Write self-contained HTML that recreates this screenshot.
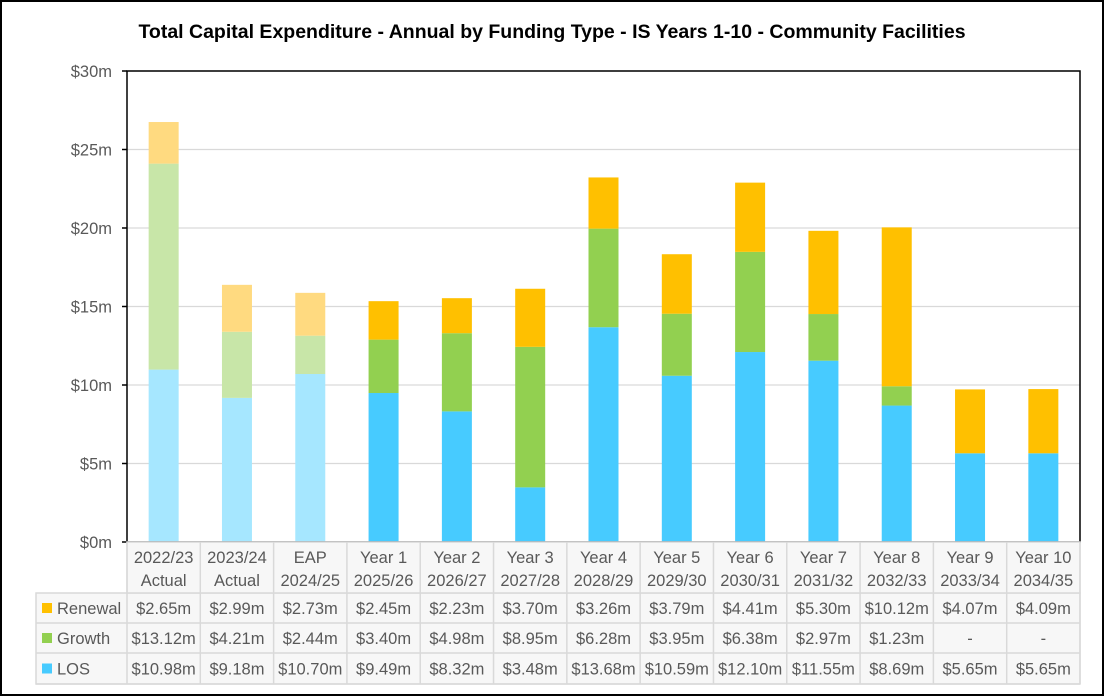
<!DOCTYPE html>
<html><head><meta charset="utf-8"><style>
body{margin:0;background:#fff}
svg{display:block;font-family:"Liberation Sans","DejaVu Sans",sans-serif}
</style></head><body>
<svg id="c" width="1104" height="696">
<rect x="1" y="1" width="1102" height="694" fill="#fff" stroke="#000" stroke-width="2"/>
<text x="552" y="38" text-anchor="middle" font-size="19.5" font-weight="bold">Total Capital Expenditure - Annual by Funding Type - IS Years 1-10 - Community Facilities</text>
<g id="g"></g>
</svg>
<script>
const cats1=["2022/23","2023/24","EAP","Year 1","Year 2","Year 3","Year 4","Year 5","Year 6","Year 7","Year 8","Year 9","Year 10"];
const cats2=["Actual","Actual","2024/25","2025/26","2026/27","2027/28","2028/29","2029/30","2030/31","2031/32","2032/33","2033/34","2034/35"];
const renewal=[2.65,2.99,2.73,2.45,2.23,3.70,3.26,3.79,4.41,5.30,10.12,4.07,4.09];
const growth=[13.12,4.21,2.44,3.40,4.98,8.95,6.28,3.95,6.38,2.97,1.23,0,0];
const los=[10.98,9.18,10.70,9.49,8.32,3.48,13.68,10.59,12.10,11.55,8.69,5.65,5.65];
const ticks=[0,5,10,15,20,25,30];
const NS="http://www.w3.org/2000/svg",g=document.getElementById('g');
const X0=127,X1=1080,Y0=542,Y1=71,MAX=30,n=cats1.length,cw=(X1-X0)/n;
const y=v=>Y0-v/MAX*(Y0-Y1), xc=i=>X0+cw*(i+0.5);
const FS=16.5;
function mk(t,a,txt){const e=document.createElementNS(NS,t);for(const k in a)e.setAttribute(k,a[k]);if(txt!=null)e.textContent=txt;g.appendChild(e);return e;}
ticks.forEach(t=>{
 if(t>0){const l=mk('line',{x1:X0,x2:X1,y1:y(t),y2:y(t),stroke:'#d9d9d9','stroke-width':1.3});
 
 }
 const tx=mk('text',{x:112,y:y(t)+6,'text-anchor':'end','font-size':FS,fill:'#595959'},'$'+t+'m');
 
 
 const tk=mk('line',{x1:X0-5,x2:X0,y1:y(t),y2:y(t),stroke:'#000','stroke-width':1.5});
 
 
});
const bw=30;
const cols={r:['#FFDA80','#FFC000'],g:['#C8E6A8','#92D050'],l:['#A6E7FF','#47CBFF']};
for(let i=0;i<n;i++){
 const k=i<3?0:1;let b=0;
 [[los[i],cols.l[k],'los'],[growth[i],cols.g[k],'growth'],[renewal[i],cols.r[k],'renewal']].forEach(([v,c,nm])=>{
  const r=mk('rect',{x:xc(i)-bw/2,y:y(b+v),width:bw,height:y(b)-y(b+v),fill:c});
  
  
  b+=v;});
}
const pa=mk('rect',{x:X0,y:Y1,width:X1-X0,height:Y0-Y1,fill:'none',stroke:'#000','stroke-width':1.5});


const TB='#d9d9d9';
const rows=[[593,623,'Renewal',renewal,'#FFC000'],[623,653,'Growth',growth,'#92D050'],[653,684,'LOS',los,'#47CBFF']];
const bg=mk('rect',{x:36,y:593,width:X1-36,height:91,fill:'#f7f7f7',stroke:TB,'stroke-width':1.5});


const hb=mk('rect',{x:X0,y:Y0,width:X1-X0,height:51,fill:'#f7f7f7',stroke:TB,'stroke-width':1.5});


for(let i=0;i<=n;i++){const l=mk('line',{x1:X0+cw*i,x2:X0+cw*i,y1:Y0,y2:684,stroke:TB,'stroke-width':1.5});}
for(let i=0;i<n;i++){
 const a=mk('text',{x:xc(i),y:563,'text-anchor':'middle','font-size':FS,fill:'#595959'},cats1[i]);
 
 
 const b2=mk('text',{x:xc(i),y:586,'text-anchor':'middle','font-size':FS,fill:'#595959'},cats2[i]);
 
 
}
rows.forEach(([t,bt,name,arr,col])=>{
 const l=mk('line',{x1:36,x2:X1,y1:bt,y2:bt,stroke:TB,'stroke-width':1.5});
 
 
 const sw=mk('rect',{x:42,y:(t+bt)/2-5,width:10,height:10,fill:col});
 
 
 const lt=mk('text',{x:57,y:(t+bt)/2+6,'font-size':FS,fill:'#595959'},name);
 
 
 arr.forEach((v,i)=>{
  const c=mk('text',{x:xc(i),y:(t+bt)/2+6,'text-anchor':'middle','font-size':FS,fill:'#595959'},v?'$'+v.toFixed(2)+'m':'-');
  
  
 });
});
</script>
</body></html>
